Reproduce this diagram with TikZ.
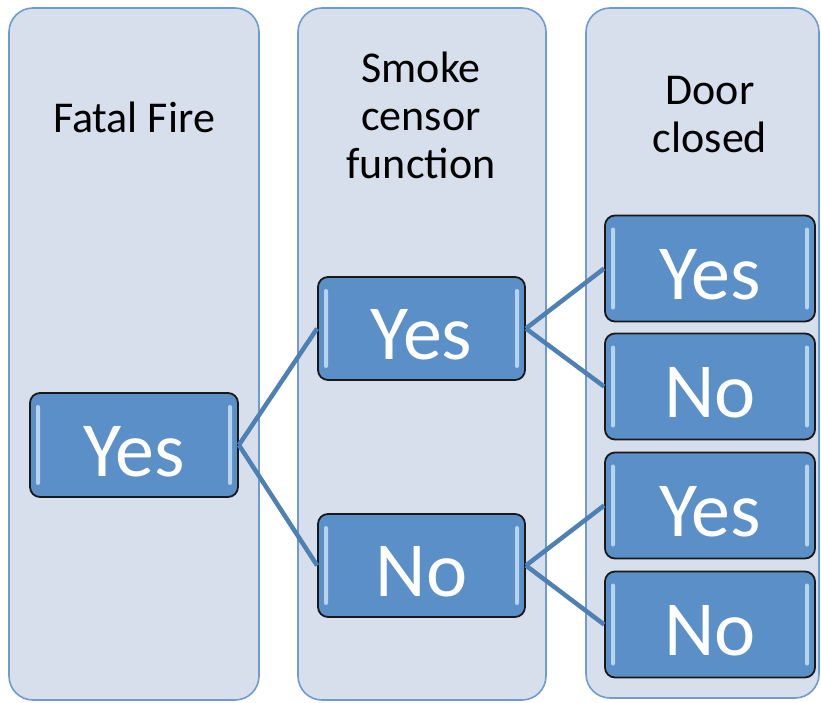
\documentclass[tikz,border=0pt]{standalone}
\usepackage{fontspec}
\setmainfont{Carlito}
\begin{document}
\definecolor{laneFill}{HTML}{D7DFEC}
\definecolor{laneEdge}{HTML}{6F9BCF}
\definecolor{boxFill}{HTML}{5B8FC7}
\definecolor{boxHi}{HTML}{CFE6FA}
\definecolor{linkCol}{HTML}{4E80B3}
% lower the label ink while keeping the box centred on the cap height
\newcommand{\drop}[1]{\raisebox{-6pt}[\height][0pt]{#1}}
\begin{tikzpicture}[x=1pt,y=-1pt,
  lane/.style={fill=laneFill,draw=laneEdge,line width=1.6pt,rounded corners=24pt},
  head/.style={font=\fontsize{44}{48}\selectfont,align=center,text=black},
  choice/.style={draw=black!90,line width=1.8pt,rounded corners=10pt,fill=boxFill,
    text=white,font=\fontsize{78}{78}\selectfont,inner sep=0pt,
    path picture={
      \fill[boxHi,opacity=0.8,rounded corners=2pt]
        ([xshift=6pt,yshift=-12pt]path picture bounding box.north west)
        rectangle ([xshift=10pt,yshift=12pt]path picture bounding box.south west);
      \fill[boxHi,opacity=0.8,rounded corners=2pt]
        ([xshift=-10pt,yshift=-12pt]path picture bounding box.north east)
        rectangle ([xshift=-6pt,yshift=12pt]path picture bounding box.south east);
    }},
  link/.style={draw=linkCol,line width=4.5pt}]
\useasboundingbox (0,0) rectangle (821,702);

% three lanes
\draw[lane] (9,8) rectangle (259,700);
\draw[lane] (298,8) rectangle (546,700);
\draw[lane] (586,8) rectangle (819,698);

% lane headings
\node[head] (h1) at (134,117) {Fatal Fire};
\node[head] (h2) at (421,115) {Smoke\\censor\\function};
\node[head] (h3) at (710,115) {Door\\closed};

% decision boxes
\node[choice,minimum width=208pt,minimum height=104pt] (fire) at (134,445) {\drop{Yes}};
\node[choice,minimum width=207pt,minimum height=103pt] (smokeY) at (421.5,328.5) {\drop{Yes}};
\node[choice,minimum width=207pt,minimum height=103pt] (smokeN) at (421.5,565.5) {\drop{No}};
\node[choice,minimum width=210pt,minimum height=106pt] (yY) at (710,268.5) {\drop{Yes}};
\node[choice,minimum width=210pt,minimum height=106pt] (yN) at (710,386.5) {\drop{No}};
\node[choice,minimum width=210pt,minimum height=106pt] (nY) at (710,505.5) {\drop{Yes}};
\node[choice,minimum width=210pt,minimum height=106pt] (nN) at (710,624.5) {\drop{No}};

% branches
\draw[link] (fire.east) -- (smokeY.west);
\draw[link] (fire.east) -- (smokeN.west);
\draw[link] (smokeY.east) -- (yY.west);
\draw[link] (smokeY.east) -- (yN.west);
\draw[link] (smokeN.east) -- (nY.west);
\draw[link] (smokeN.east) -- (nN.west);
\end{tikzpicture}
\end{document}
